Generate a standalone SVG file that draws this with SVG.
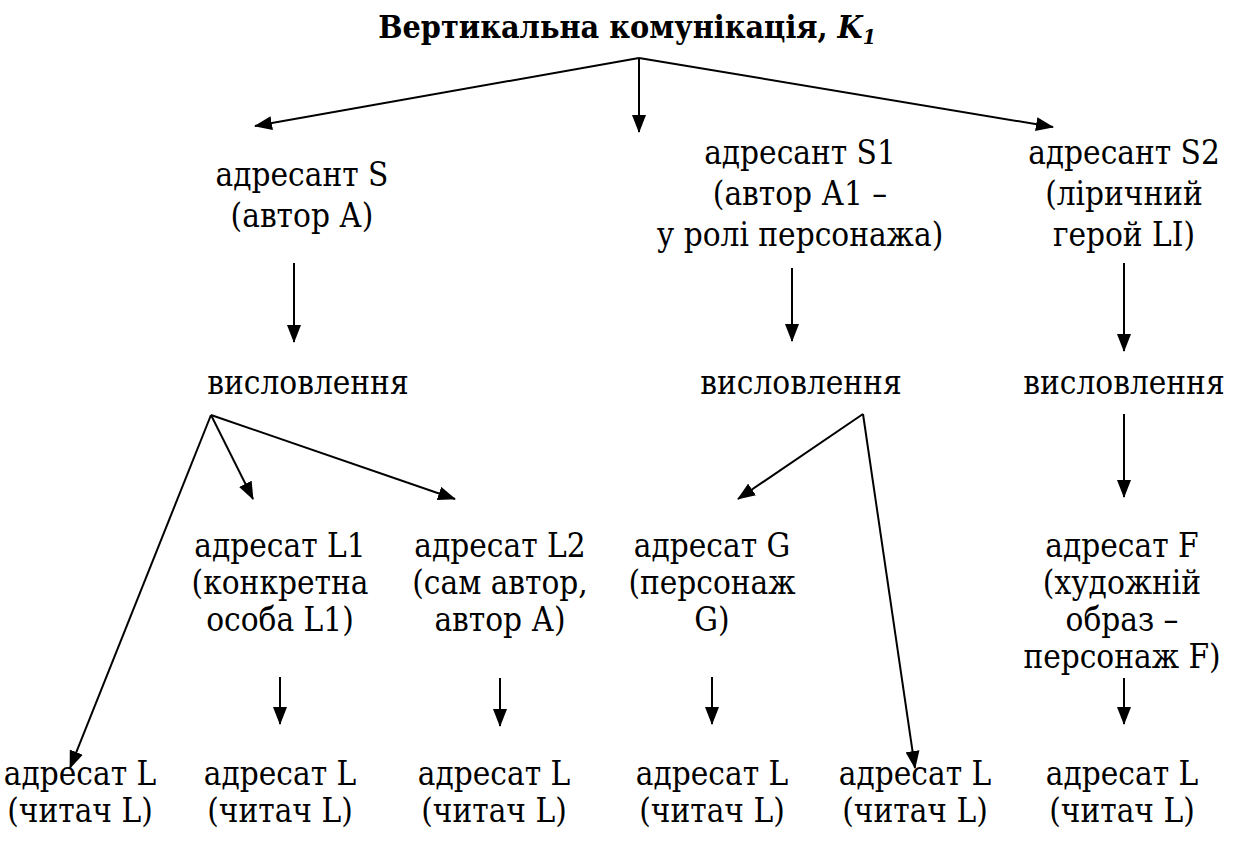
<svg xmlns="http://www.w3.org/2000/svg" width="1239" height="841" viewBox="0 0 1239 841">
  <style>
    text { font-family: 'DejaVu Serif Condensed', 'DejaVu Serif', serif; font-stretch: condensed; fill: #000; }
    .t { font-size: 33px; text-anchor: middle; }
    .title { font-size: 32px; font-weight: bold; text-anchor: middle; }
    .edge { stroke: #000; stroke-width: 2; fill: none; marker-end: url(#arrow); }
  </style>
  <defs>
    <marker id="arrow" markerUnits="userSpaceOnUse" markerWidth="18" markerHeight="14" refX="17" refY="7" orient="auto">
      <path d="M0,0 L18,7 L0,14 Z" fill="#000"/>
    </marker>
  </defs>
  <rect width="1239" height="841" fill="#fff"/>

  <g id="title">
    <text class="title" x="627" y="38">Вертикальна комунікація, <tspan font-style="italic">K</tspan><tspan font-style="italic" font-size="21" dy="6">1</tspan></text>
  </g>

  <g id="connectors">
    <line class="edge" x1="639" y1="58" x2="255" y2="126"/>
    <line class="edge" x1="639" y1="58" x2="639" y2="132"/>
    <line class="edge" x1="639" y1="58" x2="1053" y2="127"/>
    <line class="edge" x1="294" y1="263" x2="294" y2="342"/>
    <line class="edge" x1="792" y1="268" x2="792" y2="341"/>
    <line class="edge" x1="1124" y1="263" x2="1124" y2="351"/>
    <line class="edge" x1="211" y1="415" x2="253" y2="499"/>
    <line class="edge" x1="211" y1="415" x2="455" y2="499"/>
    <line class="edge" x1="211" y1="415" x2="70" y2="768"/>
    <line class="edge" x1="863" y1="414" x2="738" y2="499"/>
    <line class="edge" x1="863" y1="414" x2="915" y2="768"/>
    <line class="edge" x1="1124" y1="414" x2="1124" y2="497"/>
    <line class="edge" x1="280" y1="677" x2="280" y2="724"/>
    <line class="edge" x1="500" y1="678" x2="500" y2="726"/>
    <line class="edge" x1="712" y1="677" x2="712" y2="724"/>
    <line class="edge" x1="1124" y1="678" x2="1124" y2="724"/>
  </g>

  <g id="sender-s">
    <text class="t" x="302" y="186">адресант S</text>
    <text class="t" x="302" y="227">(автор А)</text>
  </g>
  <g id="sender-s1">
    <text class="t" x="800" y="164">адресант S1</text>
    <text class="t" x="800" y="205">(автор А1 –</text>
    <text class="t" x="800" y="246">у ролі персонажа)</text>
  </g>
  <g id="sender-s2">
    <text class="t" x="1124" y="164">адресант S2</text>
    <text class="t" x="1124" y="205">(ліричний</text>
    <text class="t" x="1124" y="246">герой LI)</text>
  </g>

  <g id="utterance-s"><text class="t" x="308" y="394">висловлення</text></g>
  <g id="utterance-s1"><text class="t" x="801" y="394">висловлення</text></g>
  <g id="utterance-s2"><text class="t" x="1124" y="394">висловлення</text></g>

  <g id="addressee-l1">
    <text class="t" x="280" y="557">адресат L1</text>
    <text class="t" x="280" y="594">(конкретна</text>
    <text class="t" x="280" y="631">особа L1)</text>
  </g>
  <g id="addressee-l2">
    <text class="t" x="500" y="557">адресат L2</text>
    <text class="t" x="500" y="594">(сам автор,</text>
    <text class="t" x="500" y="631">автор А)</text>
  </g>
  <g id="addressee-g">
    <text class="t" x="712" y="557">адресат G</text>
    <text class="t" x="712" y="594">(персонаж</text>
    <text class="t" x="712" y="631">G)</text>
  </g>
  <g id="addressee-f">
    <text class="t" x="1122" y="557">адресат F</text>
    <text class="t" x="1122" y="594">(художній</text>
    <text class="t" x="1122" y="631">образ –</text>
    <text class="t" x="1122" y="668">персонаж F)</text>
  </g>

  <g id="reader-1">
    <text class="t" x="80" y="785">адресат L</text>
    <text class="t" x="80" y="822">(читач L)</text>
  </g>
  <g id="reader-2">
    <text class="t" x="280" y="785">адресат L</text>
    <text class="t" x="280" y="822">(читач L)</text>
  </g>
  <g id="reader-3">
    <text class="t" x="494" y="785">адресат L</text>
    <text class="t" x="494" y="822">(читач L)</text>
  </g>
  <g id="reader-4">
    <text class="t" x="712" y="785">адресат L</text>
    <text class="t" x="712" y="822">(читач L)</text>
  </g>
  <g id="reader-5">
    <text class="t" x="915" y="785">адресат L</text>
    <text class="t" x="915" y="822">(читач L)</text>
  </g>
  <g id="reader-6">
    <text class="t" x="1122" y="785">адресат L</text>
    <text class="t" x="1122" y="822">(читач L)</text>
  </g>
</svg>
